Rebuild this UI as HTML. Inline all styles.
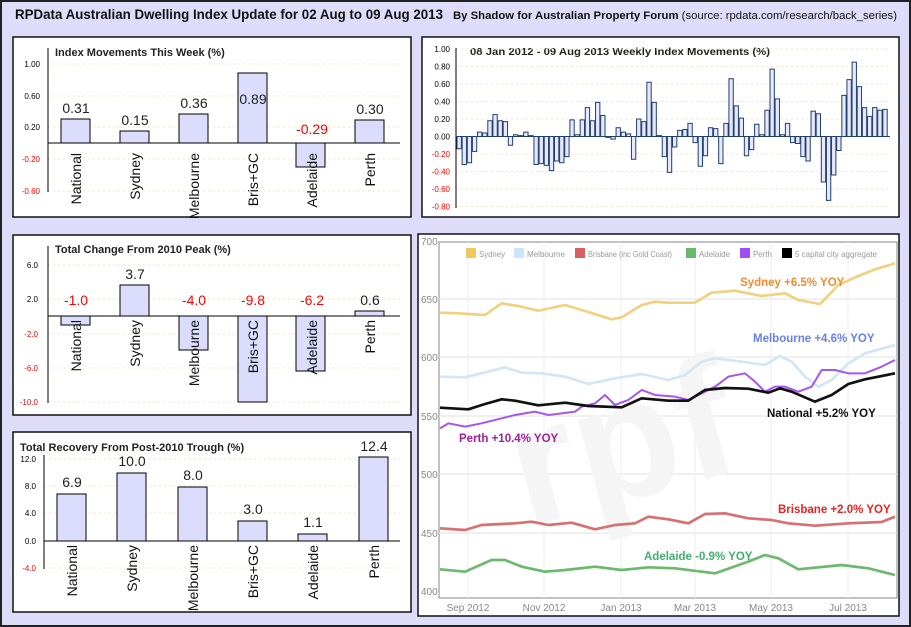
<!DOCTYPE html>
<html><head><meta charset="utf-8"><style>
html,body{margin:0;padding:0;background:#dedcf8}
svg{display:block;font-family:"Liberation Sans",sans-serif}
</style></head><body>
<svg id="s" width="911" height="627" viewBox="0 0 911 627" xmlns="http://www.w3.org/2000/svg">
<rect x="1" y="1" width="909" height="625" fill="#dedcf8" stroke="#222" stroke-width="2"/>
<text x="15" y="19" font-size="14" font-weight="bold" fill="#111" textLength="428" lengthAdjust="spacingAndGlyphs">RPData Australian Dwelling Index Update for 02 Aug to 09 Aug 2013</text>
<text x="453" y="19" font-size="11" font-weight="bold" fill="#111" textLength="444" lengthAdjust="spacingAndGlyphs">By Shadow for Australian Property Forum <tspan font-weight="normal">(source: rpdata.com/research/back_series)</tspan></text>

<!-- Panel 1 -->
<rect x="13" y="37" width="398" height="180" fill="#fff" stroke="#111" stroke-width="1.5"/>
<text x="55" y="56" font-size="11" font-weight="bold" fill="#222">Index Movements This Week (%)</text>
<g font-size="8" text-anchor="end"><text x="40" y="67">1.00</text><text x="40" y="99">0.60</text><text x="40" y="130">0.20</text><text x="40" y="162" fill="red">-0.20</text><text x="40" y="194" fill="red">-0.60</text></g>
<g stroke="#eee8c0" stroke-dasharray="2,3"><line x1="48" x2="400" y1="64" y2="64"/><line x1="48" x2="400" y1="96" y2="96"/><line x1="48" x2="400" y1="127" y2="127"/><line x1="48" x2="400" y1="159" y2="159"/><line x1="48" x2="400" y1="191" y2="191"/></g>
<line x1="48" y1="48" x2="48" y2="192" stroke="#000"/>
<g fill="#dcdcfc" stroke="#000" stroke-width="1">
<rect x="61" y="119" width="29" height="24"/><rect x="120" y="131" width="29" height="12"/><rect x="179" y="114" width="29" height="29"/><rect x="238" y="73" width="29" height="70"/><rect x="296" y="143" width="29" height="24"/><rect x="355" y="120" width="29" height="23"/></g>
<line x1="48" y1="143" x2="400" y2="143" stroke="#000"/>
<g font-size="14" text-anchor="middle" fill="#222"><text x="76" y="113">0.31</text><text x="135" y="125">0.15</text><text x="194" y="108">0.36</text><text x="253" y="104">0.89</text><text x="312" y="134" fill="red">-0.29</text><text x="370" y="114">0.30</text></g>
<g font-size="14" text-anchor="end" fill="#111">
<text transform="translate(81,153) rotate(-90)">National</text><text transform="translate(140,153) rotate(-90)">Sydney</text><text transform="translate(199,153) rotate(-90)">Melbourne</text><text transform="translate(258,153) rotate(-90)">Bris+GC</text><text transform="translate(317,153) rotate(-90)">Adelaide</text><text transform="translate(375,153) rotate(-90)">Perth</text></g>

<!-- Panel 2 -->
<rect x="13" y="235" width="398" height="180" fill="#fff" stroke="#111" stroke-width="1.5"/>
<text x="55" y="253" font-size="11" font-weight="bold" fill="#222">Total Change From 2010 Peak (%)</text>
<g font-size="8" text-anchor="end"><text x="38" y="268">6.0</text><text x="38" y="302">2.0</text><text x="38" y="337" fill="red">-2.0</text><text x="38" y="371" fill="red">-6.0</text><text x="38" y="405" fill="red">-10.0</text></g>
<g stroke="#eee8c0" stroke-dasharray="2,3"><line x1="48" x2="400" y1="265" y2="265"/><line x1="48" x2="400" y1="299" y2="299"/><line x1="48" x2="400" y1="334" y2="334"/><line x1="48" x2="400" y1="368" y2="368"/><line x1="48" x2="400" y1="402" y2="402"/></g>
<line x1="48" y1="246" x2="48" y2="403" stroke="#000"/>
<g fill="#dcdcfc" stroke="#000">
<rect x="61" y="316" width="29" height="9"/><rect x="120" y="285" width="29" height="31"/><rect x="179" y="316" width="29" height="34"/><rect x="238" y="316" width="29" height="86"/><rect x="296" y="316" width="29" height="55"/><rect x="355" y="311" width="29" height="5"/></g>
<line x1="48" y1="316" x2="400" y2="316" stroke="#000"/>
<g font-size="14" text-anchor="middle" fill="red"><text x="76" y="305">-1.0</text><text x="135" y="279" fill="#222">3.7</text><text x="194" y="305">-4.0</text><text x="253" y="305">-9.8</text><text x="312" y="305">-6.2</text><text x="370" y="305" fill="#222">0.6</text></g>
<g font-size="14" text-anchor="end" fill="#111">
<text transform="translate(81,320) rotate(-90)">National</text><text transform="translate(140,320) rotate(-90)">Sydney</text><text transform="translate(199,320) rotate(-90)">Melbourne</text><text transform="translate(258,320) rotate(-90)">Bris+GC</text><text transform="translate(317,320) rotate(-90)">Adelaide</text><text transform="translate(375,320) rotate(-90)">Perth</text></g>

<!-- Panel 3 -->
<rect x="13" y="432" width="398" height="180" fill="#fff" stroke="#111" stroke-width="1.5"/>
<text x="20" y="451" font-size="11" font-weight="bold" fill="#222">Total Recovery From Post-2010 Trough (%)</text>
<g font-size="8" text-anchor="end"><text x="36" y="462">12.0</text><text x="36" y="489">8.0</text><text x="36" y="516">4.0</text><text x="36" y="544">0.0</text><text x="36" y="571" fill="red">-4.0</text></g>
<g stroke="#eee8c0" stroke-dasharray="2,3"><line x1="44" x2="400" y1="459" y2="459"/><line x1="44" x2="400" y1="486" y2="486"/><line x1="44" x2="400" y1="513" y2="513"/><line x1="44" x2="400" y1="568" y2="568"/></g>
<line x1="44" y1="455" x2="44" y2="569" stroke="#000"/>
<g fill="#dcdcfc" stroke="#000">
<rect x="57" y="494" width="29" height="47"/><rect x="117" y="473" width="29" height="68"/><rect x="178" y="487" width="29" height="54"/><rect x="238" y="521" width="29" height="20"/><rect x="298" y="534" width="29" height="7"/><rect x="359" y="457" width="29" height="84"/></g>
<line x1="44" y1="541" x2="400" y2="541" stroke="#000"/>
<g font-size="14" text-anchor="middle" fill="#222"><text x="72" y="487">6.9</text><text x="132" y="466">10.0</text><text x="193" y="480">8.0</text><text x="253" y="514">3.0</text><text x="313" y="527">1.1</text><text x="374" y="451">12.4</text></g>
<g font-size="14" text-anchor="end" fill="#111">
<text transform="translate(77,545) rotate(-90)">National</text><text transform="translate(137,545) rotate(-90)">Sydney</text><text transform="translate(198,545) rotate(-90)">Melbourne</text><text transform="translate(258,545) rotate(-90)">Bris+GC</text><text transform="translate(318,545) rotate(-90)">Adelaide</text><text transform="translate(379,545) rotate(-90)">Perth</text></g>

<!-- Panel 4 weekly -->
<rect x="422" y="37" width="477" height="180" fill="#fff" stroke="#111" stroke-width="1.5"/>
<text x="470" y="55" font-size="10" font-weight="bold" fill="#222" textLength="300" lengthAdjust="spacingAndGlyphs">08 Jan 2012 - 09 Aug 2013 Weekly Index Movements (%)</text>
<g font-size="8" text-anchor="end" id="wt"></g>
<g id="wg" stroke="#eee8c0" stroke-dasharray="2,3"></g>
<line x1="456" y1="48" x2="456" y2="208" stroke="#000"/>
<g id="wb" fill="#e8e8fc" stroke="#1f3f6f" stroke-width="1"></g>
<line x1="456" y1="136.5" x2="890" y2="136.5" stroke="#1f3f6f"/>

<!-- Panel 5 line chart -->
<rect x="418" y="234" width="481" height="382" fill="#fff" stroke="#111" stroke-width="1.5"/>
<rect x="439" y="242" width="458" height="356" fill="#fff" stroke="#999" stroke-width="1.2"/>
<g stroke="#e0e0e0"><line x1="439" x2="897" y1="299" y2="299"/><line x1="439" x2="897" y1="357" y2="357"/><line x1="439" x2="897" y1="416" y2="416"/><line x1="439" x2="897" y1="474" y2="474"/><line x1="439" x2="897" y1="533" y2="533"/></g>
<g stroke="#eee"><line x1="468" x2="468" y1="242" y2="598"/><line x1="544" x2="544" y1="242" y2="598"/><line x1="621" x2="621" y1="242" y2="598"/><line x1="695" x2="695" y1="242" y2="598"/><line x1="771" x2="771" y1="242" y2="598"/><line x1="848" x2="848" y1="242" y2="598"/></g>
<text x="620" y="500" font-size="170" font-weight="bold" fill="#f5f5f5" text-anchor="middle" transform="rotate(-15 620 440)">rpf</text>
<g font-size="10" fill="#888"><text x="421" y="245">700</text><text x="421" y="303">650</text><text x="421" y="361">600</text><text x="421" y="420">550</text><text x="421" y="478">500</text><text x="421" y="537">450</text><text x="421" y="595">400</text></g>
<g font-size="10" fill="#888" text-anchor="middle"><text x="468" y="611">Sep 2012</text><text x="544" y="611">Nov 2012</text><text x="621" y="611">Jan 2013</text><text x="695" y="611">Mar 2013</text><text x="771" y="611">May 2013</text><text x="848" y="611">Jul 2013</text></g>
<g font-size="8.5" fill="#999">
<rect x="466" y="248" width="10" height="10" fill="#f0c860"/><text x="479" y="257" textLength="26" lengthAdjust="spacingAndGlyphs">Sydney</text>
<rect x="514" y="248" width="10" height="10" fill="#cce4fa"/><text x="527" y="257" textLength="38" lengthAdjust="spacingAndGlyphs">Melbourne</text>
<rect x="575" y="248" width="10" height="10" fill="#d86060"/><text x="588" y="257" textLength="84" lengthAdjust="spacingAndGlyphs">Brisbane (inc Gold Coast)</text>
<rect x="686" y="248" width="10" height="10" fill="#6ab86a"/><text x="699" y="257" textLength="31" lengthAdjust="spacingAndGlyphs">Adelaide</text>
<rect x="740" y="248" width="10" height="10" fill="#a050f0"/><text x="753" y="257" textLength="19" lengthAdjust="spacingAndGlyphs">Perth</text>
<rect x="782" y="248" width="10" height="10" fill="#000"/><text x="795" y="257" textLength="82" lengthAdjust="spacingAndGlyphs">5 capital city aggregate</text></g>
<g transform="translate(415,230) scale(0.33333)" fill="none" stroke-width="8" stroke-linejoin="round">
<polyline stroke="#f2d080" points="75,248 130,250 210,255 260,220 310,228 370,242 450,225 500,240 590,268 620,262 680,225 720,215 760,218 840,218 890,188 960,182 1040,198 1110,190 1150,210 1215,222 1270,165 1330,138 1380,118 1440,100"/>
<polyline stroke="#d4e6f6" points="75,440 150,442 200,430 270,412 320,428 380,430 450,440 520,462 600,445 680,432 760,450 810,435 860,395 900,385 980,395 1050,405 1095,378 1130,395 1170,440 1210,470 1250,450 1300,400 1350,370 1440,345"/>
<polyline stroke="#a855ee" stroke-width="6" points="75,595 100,580 150,590 200,580 260,565 300,555 360,545 400,555 440,550 480,545 500,530 540,520 570,495 600,525 640,510 680,480 720,495 780,500 820,510 860,490 900,470 940,440 990,430 1020,455 1050,485 1080,470 1110,470 1150,485 1190,470 1220,420 1260,420 1300,430 1350,430 1400,410 1440,390"/>
<polyline stroke="#111" points="75,533 160,538 210,522 260,508 300,512 370,526 450,518 520,528 620,532 680,505 760,512 820,512 870,480 930,474 1000,476 1060,488 1095,475 1130,485 1200,515 1250,495 1300,462 1350,448 1440,430"/>
<polyline stroke="#d87070" points="75,895 150,900 200,885 300,880 350,875 400,885 470,878 540,898 600,885 660,880 700,860 760,868 820,880 870,852 930,850 1000,865 1070,870 1120,880 1200,887 1300,880 1400,876 1440,860"/>
<polyline stroke="#6cb86c" points="75,1018 150,1025 230,990 270,990 320,1010 390,1025 450,1020 540,1010 620,1020 700,1012 780,1015 900,1030 1000,995 1050,975 1090,985 1150,1018 1280,1005 1360,1015 1440,1035"/>
</g>
<g font-size="11.5" font-weight="bold">
<text x="740" y="286" fill="#f58a30">Sydney +6.5% YOY</text>
<text x="753" y="342" fill="#6680f0">Melbourne +4.6% YOY</text>
<text x="767" y="417" fill="#111">National +5.2% YOY</text>
<text x="459" y="442" fill="#a020a0">Perth +10.4% YOY</text>
<text x="778" y="513" fill="#ee2020">Brisbane +2.0% YOY</text>
<text x="644" y="560" fill="#40b070">Adelaide -0.9% YOY</text></g>
</svg>
<script>
var v=[-0.14,-0.32,-0.30,-0.17,0.05,0.04,0.18,0.25,0.18,0.17,-0.10,0.02,0.01,0.05,0.01,-0.32,-0.31,-0.33,-0.39,-0.28,-0.30,-0.23,0.19,0.02,0.19,0.33,0.18,0.39,0.24,-0.01,-0.03,0.10,0.05,0.03,-0.26,0.20,0.17,0.62,0.39,0.01,-0.23,-0.41,-0.12,0.07,0.08,0.15,-0.07,-0.34,-0.22,0.10,0.09,-0.31,0.15,0.66,0.35,0.21,-0.22,-0.15,0.14,0.02,0.30,0.77,0.43,0.02,0.15,-0.07,-0.08,-0.23,-0.28,0.29,0.26,-0.52,-0.73,-0.44,-0.16,0.47,0.65,0.85,0.57,0.33,0.23,0.33,0.30,0.31];
var NS="http://www.w3.org/2000/svg",z=136.5,k=87.5,w=431/v.length;
var wb=document.getElementById('wb'),wt=document.getElementById('wt'),wg=document.getElementById('wg');
v.forEach(function(a,i){var r=document.createElementNS(NS,'rect');var h=Math.abs(a)*k;r.setAttribute('x',457+i*w);r.setAttribute('width',w-0.8);r.setAttribute('y',a>=0?z-h:z);r.setAttribute('height',Math.max(h,0.5));wb.appendChild(r);});
for(var t=1;t>=-0.81;t-=0.2){var y=z-t*k;var tx=document.createElementNS(NS,'text');tx.setAttribute('x',450);tx.setAttribute('y',y+3);tx.textContent=t.toFixed(2).replace('-0.00','0.00');if(t<-0.01)tx.setAttribute('fill','red');wt.appendChild(tx);var l=document.createElementNS(NS,'line');l.setAttribute('x1',456);l.setAttribute('x2',890);l.setAttribute('y1',y);l.setAttribute('y2',y);wg.appendChild(l);}
</script>
</body></html>
